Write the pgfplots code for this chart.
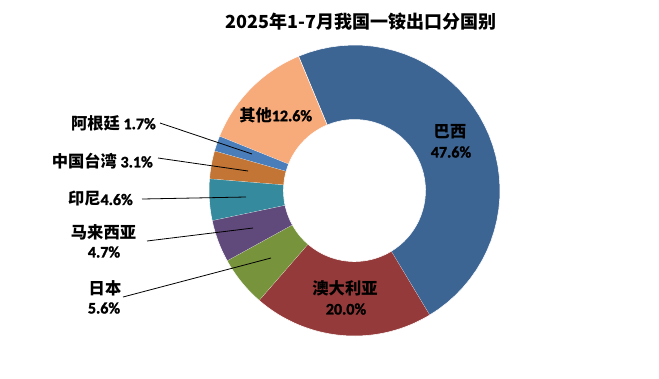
\documentclass[border=0pt]{standalone}
\usepackage{pgfplots}
\pgfplotsset{compat=1.18}
\usepackage{pgfplotstable}
\usepackage{fontspec}
\setmainfont{Carlito}
\newfontfamily\numb{Carlito}[UprightFont={* Bold}, FakeBold=1.6]
\newfontfamily\cjk{Noto Sans CJK SC}
\definecolor{cBR}{HTML}{3D6594}
\definecolor{cAU}{HTML}{953A3A}
\definecolor{cJP}{HTML}{77933C}
\definecolor{cMY}{HTML}{604A7B}
\definecolor{cID}{HTML}{368A9D}
\definecolor{cTW}{HTML}{C27535}
\definecolor{cAR}{HTML}{4A7EBB}
\definecolor{cOT}{HTML}{F7AA7A}
\pgfplotstableread{
name value color
Brazil 47.6 cBR
Australia 20.0 cAU
Japan 5.6 cJP
Malaysia 4.7 cMY
Indonesia 4.6 cID
Taiwan 3.1 cTW
Argentina 1.7 cAR
Others 12.6 cOT
}\sharetable
\newcommand{\zh}{\cjk\bfseries\fontsize{12.2}{14}\selectfont}
\newcommand{\pc}{\numb\bfseries\fontsize{12}{13}\selectfont}
\begin{document}
\begin{tikzpicture}
\begin{axis}[
  scale only axis, width=494.25pt, height=283.5pt,
  xmin=0, xmax=659, ymin=-378, ymax=0,
  hide axis, clip=false]
\path (rel axis cs:0,0) rectangle (rel axis cs:1,1);
\pgfmathsetmacro{\cum}{0}
\pgfplotsforeachungrouped \i in {0,...,7}{%
  \pgfplotstablegetelem{\i}{value}\of\sharetable \let\v\pgfplotsretval
  \pgfplotstablegetelem{\i}{color}\of\sharetable \let\c\pgfplotsretval
  \pgfmathsetmacro{\a}{112.6-3.603604*\cum}%
  \pgfmathsetmacro{\b}{112.6-3.603604*(\cum+\v)}%
  \edef\temp{\noexpand\addplot[fill=\c, draw=white, line width=0.4pt, samples at={0,1,...,40,41,42,...,81}]
    ({354.5+(x<=40.5?145.5:71)*cos(x<=40.5?(\a)+((\b)-(\a))*x/40:(\b)+((\a)-(\b))*(x-41)/40)},
     {-190.5+(x<=40.5?145.5:71)*sin(x<=40.5?(\a)+((\b)-(\a))*x/40:(\b)+((\a)-(\b))*(x-41)/40)});}%
  \temp
  \pgfmathsetmacro{\cum}{\cum+\v}%
}
% leader lines
\addplot[black, line width=0.6pt] coordinates {(160,-123) (252,-154)};
\addplot[black, line width=0.6pt] coordinates {(158,-158) (248,-171)};
\addplot[black, line width=0.6pt] coordinates {(142,-199) (246,-197)};
\addplot[black, line width=0.6pt] coordinates {(147,-241) (253,-228)};
\addplot[black, line width=0.6pt] coordinates {(123,-297) (271,-258)};
% title
\node[font=\cjk\bfseries\fontsize{13.5}{16}\selectfont] at (axis cs:361,-22) {2025年1-7月我国一铵出口分国别};
% inner labels
\node[font=\zh] at (axis cs:450,-132) {巴西};
\node[font=\pc] at (axis cs:451,-152) {47.6\%};
\node[font=\zh] at (axis cs:345,-288) {澳大利亚};
\node[font=\pc] at (axis cs:346,-309) {20.0\%};
\node[anchor=west, inner sep=0pt] at (axis cs:239,-115) {\zh 其他\pc 12.6\%};
% outer labels
\node[anchor=east, inner sep=0pt] at (axis cs:156,-123) {\zh 阿根廷 \pc 1.7\%};
\node[anchor=east, inner sep=0pt] at (axis cs:153,-161) {\zh 中国台湾 \pc 3.1\%};
\node[anchor=east, inner sep=0pt] at (axis cs:133,-199) {\zh 印尼\pc 4.6\%};
\node[font=\zh] at (axis cs:103.5,-232) {马来西亚};
\node[font=\pc] at (axis cs:104,-252) {4.7\%};
\node[font=\zh] at (axis cs:105,-288) {日本};
\node[font=\pc] at (axis cs:104,-308) {5.6\%};
\end{axis}
\end{tikzpicture}
\end{document}
